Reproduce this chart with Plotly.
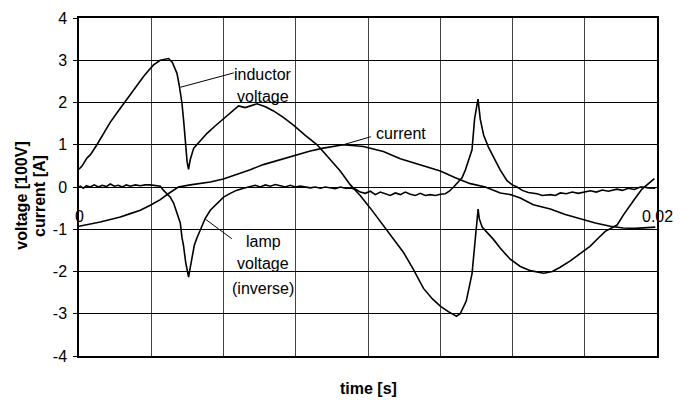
import plotly.graph_objects as go

# ---- data ----
ind_t = [0.00000, 0.00011, 0.00028, 0.00039, 0.00062, 0.00084, 0.00108, 0.00136, 0.00166, 0.00195,
         0.00224, 0.00240, 0.00258, 0.00281, 0.00310, 0.00323, 0.00339, 0.00347, 0.00356, 0.00363,
         0.00368, 0.00374, 0.00379, 0.00385, 0.00397, 0.00420, 0.00443, 0.00472, 0.00512, 0.00552,
         0.00575, 0.00616, 0.00645, 0.00673, 0.00707, 0.00743, 0.00783, 0.00824, 0.00863, 0.00904,
         0.00939, 0.00973, 0.01008, 0.01054, 0.01088, 0.01123, 0.01157, 0.01192, 0.01223, 0.01250,
         0.01278, 0.01306, 0.01319, 0.01340, 0.01360, 0.01368, 0.01375, 0.01381, 0.01385, 0.01395,
         0.01434, 0.01458, 0.01492, 0.01527, 0.01562, 0.01608, 0.01638, 0.01665, 0.01700, 0.01741,
         0.01769, 0.01798, 0.01821, 0.01862, 0.01884, 0.01919, 0.01948, 0.01991]
ind_v = [0.42, 0.50, 0.69, 0.76, 1.00, 1.24, 1.53, 1.80, 2.08, 2.37,
         2.62, 2.75, 2.89, 3.00, 3.04, 2.95, 2.69, 2.40, 2.00, 1.50,
         1.00, 0.60, 0.42, 0.65, 0.92, 1.10, 1.27, 1.45, 1.69, 1.92,
         1.88, 1.97, 1.90, 1.80, 1.65, 1.46, 1.22, 1.00, 0.70, 0.38,
         0.05, -0.20, -0.50, -0.93, -1.25, -1.55, -1.95, -2.40, -2.65, -2.82,
         -2.95, -3.06, -3.00, -2.70, -2.05, -1.50, -0.90, -0.52, -0.75, -0.95,
         -1.24, -1.45, -1.71, -1.88, -1.98, -2.04, -2.00, -1.90, -1.75, -1.55,
         -1.40, -1.20, -1.05, -0.90, -0.66, -0.32, -0.05, 0.20]

lamp_t = [0.000000, 0.000045, 0.000149, 0.000253, 0.000391, 0.000529, 0.000668, 0.000806, 0.000945, 0.001083,
          0.001221, 0.001360, 0.001498, 0.001637, 0.001775, 0.001948, 0.002121, 0.002294, 0.002467, 0.002640,
          0.002813, 0.002927, 0.003045, 0.003159, 0.003273, 0.003391, 0.003505, 0.003564, 0.003619, 0.003695,
          0.003792, 0.003851, 0.003910, 0.003990, 0.004083, 0.004256, 0.004370, 0.004543, 0.004775, 0.005003,
          0.005235, 0.005443, 0.005695, 0.005927, 0.006100, 0.006273, 0.006446, 0.006619, 0.006792, 0.006965,
          0.007138, 0.007311, 0.007484, 0.007657, 0.007830, 0.008003, 0.008176, 0.008349, 0.008522, 0.008695,
          0.008868, 0.009042, 0.009215, 0.009388, 0.009561, 0.009734, 0.009907, 0.010080, 0.010253, 0.010426,
          0.010599, 0.010772, 0.010945, 0.011118, 0.011291, 0.011464, 0.011637, 0.011810, 0.011983, 0.012156,
          0.012329, 0.012502, 0.012675, 0.012813, 0.012962, 0.013090, 0.013253, 0.013367, 0.013471, 0.013599,
          0.013689, 0.013806, 0.013886, 0.014000, 0.014163, 0.014346, 0.014578, 0.014810, 0.014993, 0.015156,
          0.015339, 0.015547, 0.015848, 0.016031, 0.016308, 0.016481, 0.016654, 0.016862, 0.017069, 0.017277,
          0.017460, 0.017692, 0.017900, 0.018107, 0.018315, 0.018616, 0.018800, 0.019007, 0.019215, 0.019422,
          0.019526, 0.019699, 0.019941]
lamp_v = [0.00, 0.02, -0.03, 0.03, 0.00, 0.05, 0.00, 0.04, 0.01, 0.07,
          0.02, 0.04, 0.00, 0.05, 0.02, 0.05, 0.03, 0.05, 0.05, 0.04,
          0.02, -0.08, -0.16, -0.24, -0.38, -0.63, -0.85, -1.20, -1.40, -1.80,
          -2.13, -1.90, -1.63, -1.38, -1.20, -0.93, -0.74, -0.55, -0.39, -0.24,
          -0.15, -0.08, -0.03, 0.00, 0.04, 0.00, 0.05, 0.02, 0.06, 0.03,
          0.00, 0.04, 0.00, 0.02, 0.00, -0.02, 0.00, -0.03, 0.00, -0.02,
          -0.04, 0.00, -0.03, -0.02, -0.05, -0.12, -0.15, -0.10, -0.18, -0.12,
          -0.16, -0.20, -0.14, -0.18, -0.12, -0.17, -0.20, -0.15, -0.20, -0.18,
          -0.20, -0.17, -0.16, -0.10, 0.00, 0.10, 0.22, 0.40, 0.60, 0.88,
          1.62, 2.08, 1.60, 1.23, 0.95, 0.69, 0.40, 0.15, 0.05, 0.00,
          -0.08, -0.13, -0.16, -0.20, -0.18, -0.20, -0.14, -0.16, -0.12, -0.15,
          -0.12, -0.09, -0.12, -0.07, -0.10, -0.05, -0.08, -0.03, -0.06, 0.00,
          0.00, -0.02, -0.03]

cur_t = [0.000000, 0.000391, 0.000737, 0.001083, 0.001429, 0.001775, 0.002121, 0.002467, 0.002813, 0.003090,
         0.003436, 0.003851, 0.004197, 0.004543, 0.004993, 0.005408, 0.005927, 0.006377, 0.006965, 0.007554,
         0.008003, 0.008453, 0.009146, 0.009838, 0.010530, 0.011118, 0.011810, 0.012502, 0.013021, 0.013540,
         0.014059, 0.014578, 0.014924, 0.015270, 0.015720, 0.016308, 0.016827, 0.017450, 0.017865, 0.018384,
         0.018834, 0.019249, 0.019595, 0.019941]
cur_i = [-0.93, -0.88, -0.83, -0.77, -0.71, -0.63, -0.55, -0.43, -0.30, -0.16,
         0.00, 0.05, 0.08, 0.12, 0.19, 0.28, 0.41, 0.53, 0.65, 0.76,
         0.85, 0.92, 1.00, 0.96, 0.84, 0.67, 0.53, 0.38, 0.22, 0.08,
         0.00, -0.14, -0.18, -0.26, -0.42, -0.52, -0.65, -0.78, -0.85, -0.93,
         -0.97, -0.98, -0.97, -0.95]

x_tick_labels = ["0", "0.02"]
x_tick_vals = [0.0, 0.02]
y_tick_vals = [4, 3, 2, 1, 0, -1, -2, -3, -4]
y_tick_labels = ["4", "3", "2", "1", "0", "-1", "-2", "-3", "-4"]

FONT = "Liberation Sans, Arial, sans-serif"
line_style = dict(color="black", width=1.6)

fig = go.Figure()
fig.add_trace(go.Scatter(x=ind_t, y=ind_v, mode="lines", line=line_style, name="inductor voltage"))
fig.add_trace(go.Scatter(x=lamp_t, y=lamp_v, mode="lines", line=line_style, name="lamp voltage (inverse)"))
fig.add_trace(go.Scatter(x=cur_t, y=cur_i, mode="lines", line=line_style, name="current"))

ann = []
# x tick labels placed next to the axis at y=0
for v, s in zip(x_tick_vals, x_tick_labels):
    ann.append(dict(x=v, y=-0.69, xref="x", yref="y", text=s, showarrow=False,
                    font=dict(size=16, color="black", family=FONT), xanchor="center", yanchor="middle"))

# callout lines
ann.append(dict(x=0.003505, y=2.36, ax=0.005408, ay=2.71, xref="x", yref="y", axref="x", ayref="y",
                text="", showarrow=True, arrowhead=0, arrowwidth=1, arrowcolor="black"))
ann.append(dict(x=0.009146, y=1.0, ax=0.010149, ay=1.2, xref="x", yref="y", axref="x", ayref="y",
                text="", showarrow=True, arrowhead=0, arrowwidth=1, arrowcolor="black"))
ann.append(dict(x=0.00437, y=-0.76, ax=0.005339, ay=-1.25, xref="x", yref="y", axref="x", ayref="y",
                text="", showarrow=True, arrowhead=0, arrowwidth=1, arrowcolor="black"))

# callout texts
for txt, xv, yv in [("inductor", 0.00638, 2.67), ("voltage", 0.00638, 2.15),
                    ("current", 0.011152, 1.27),
                    ("lamp", 0.00638, -1.30), ("voltage", 0.00638, -1.82), ("(inverse)", 0.00638, -2.41)]:
    ann.append(dict(x=xv, y=yv, xref="x", yref="y", text=txt, showarrow=False,
                    font=dict(size=16, color="black", family=FONT), xanchor="center", yanchor="middle"))

# axis titles
ann.append(dict(x=0.5, y=-0.096, xref="paper", yref="paper", text="<b>time [s]</b>", showarrow=False,
                font=dict(size=16, color="black", family=FONT), xanchor="center", yanchor="middle"))
ann.append(dict(x=-0.099, y=0.4735, xref="paper", yref="paper", text="<b>voltage [100V]</b>", showarrow=False,
                textangle=-90, font=dict(size=16, color="black", family=FONT), xanchor="center", yanchor="middle"))
ann.append(dict(x=-0.0675, y=0.4735, xref="paper", yref="paper", text="<b>current [A]</b>", showarrow=False,
                textangle=-90, font=dict(size=16, color="black", family=FONT), xanchor="center", yanchor="middle"))

fig.update_layout(
    width=685, height=400,
    margin=dict(l=79, r=28, t=10, b=44),
    paper_bgcolor="white", plot_bgcolor="white",
    showlegend=False,
    font=dict(family=FONT, size=16, color="black"),
    annotations=ann,
    xaxis=dict(range=[0, 0.02], dtick=0.0025, tick0=0, showticklabels=False,
               showgrid=True, gridcolor="#444444", gridwidth=1, zeroline=False,
               showline=True, linecolor="black", linewidth=1.5, mirror=True, ticks=""),
    yaxis=dict(range=[-4, 4], tickmode="array", tickvals=y_tick_vals, ticktext=y_tick_labels,
               showgrid=True, gridcolor="black", gridwidth=1,
               zeroline=True, zerolinecolor="black", zerolinewidth=1,
               showline=True, linecolor="black", linewidth=1.5, mirror=True,
               ticks="outside", ticklen=4, tickcolor="black", ticklabelstandoff=3,
               tickfont=dict(size=16, color="black", family=FONT)),
)

fig.write_html("out.html")
